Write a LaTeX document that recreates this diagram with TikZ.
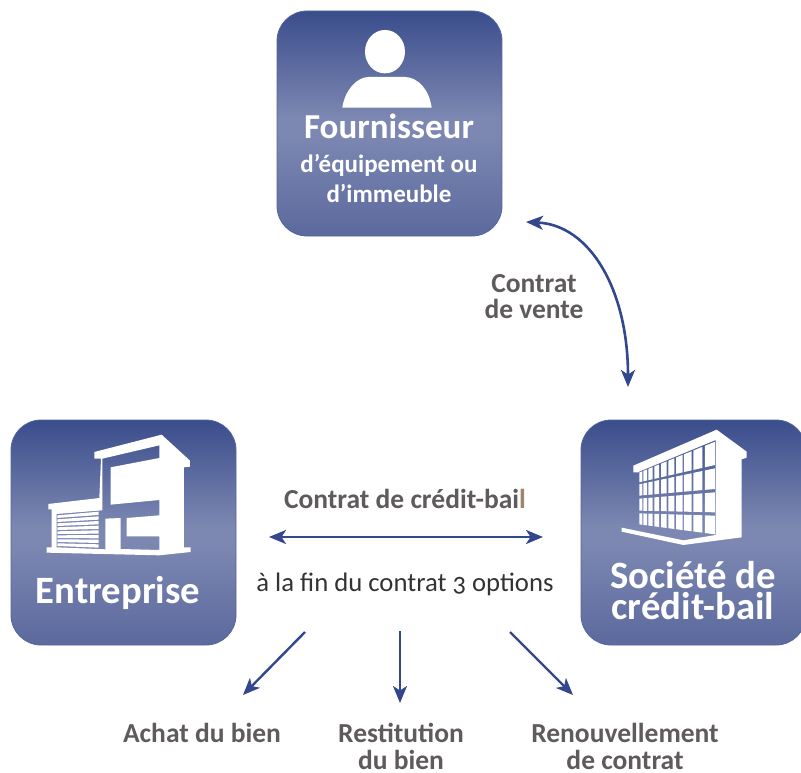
\documentclass[tikz,border=0pt]{standalone}
\usepackage{fontspec}
\setmainfont[Numbers=OldStyle]{Carlito}
\usetikzlibrary{arrows.meta}
\definecolor{gtop}{HTML}{3A4D8C}
\definecolor{gmid}{HTML}{7D88B2}
\definecolor{gbot}{HTML}{5B699D}
\definecolor{edgeblue}{HTML}{55659C}
\definecolor{arrowblue}{HTML}{32478C}
\definecolor{labelgray}{HTML}{5F5A5B}
\definecolor{brownl}{HTML}{A2846E}
\pgfdeclareverticalshading{boxgrad}{100bp}{color(0bp)=(gbot); color(25bp)=(gbot); color(48bp)=(gmid); color(51bp)=(gmid); color(75bp)=(gtop); color(100bp)=(gtop)}
\tikzset{
  card/.style={shading=boxgrad, draw=edgeblue, line width=0.8pt, rounded corners=30pt, minimum width=225pt, minimum height=225pt, inner sep=0pt},
  whitetext/.style={text=white, anchor=base, inner sep=0pt, font=\bfseries},
  graytext/.style={text=labelgray, anchor=base, inner sep=0pt, font=\fontsize{27.5}{27.5}\selectfont\bfseries},
  flow/.style={draw=arrowblue, line width=2.6pt, {Stealth[length=17pt,width=14pt,inset=4.5pt]}-{Stealth[length=17pt,width=14pt,inset=4.5pt]}},
  oneway/.style={draw=arrowblue, line width=2.4pt, -{Stealth[length=17pt,width=14pt,inset=4.5pt]}},
  glyph/.style={fill=white}
}
\begin{document}
\begin{tikzpicture}[x=1pt,y=-1pt]
\useasboundingbox (0,0) rectangle (801,773);
\clip (0,0) rectangle (801,773);
% cards
\node[card] (four) at (389.5,123.5) {};
\node[card] (entr) at (123.5,532.5) {};
\node[card] (socb) at (693.5,532.5) {};
% person
\begin{scope}[shift={(270,0)},x=0.3333pt,y=-0.3333pt]
\fill[glyph] (345,155) ellipse [x radius=20pt, y radius=21.7pt];
\fill[glyph] (217,323) .. controls (225,270) and (260,232) .. (295,231) -- (405,231) .. controls (445,232) and (478,270) .. (485,323) -- cycle;
\end{scope}
% house
\begin{scope}[shift={(40,428)},x=0.3333pt,y=-0.3333pt]
\fill[glyph,even odd rule]
 (163,72)--(365,20)--(450,98)--(450,116)--(432,118)--(432,358)--(452,358)--(452,372)--(358,382)--(20,374)--(20,358)--(35,358)--(35,244)--(25,244)--(25,228)--(178,210)--(183,92)--(163,92)--cycle
 (187,92)--(358,52)--(358,90)--(212,118)--(212,230)--(358,216)--(358,262)--(260,270)--(260,325)--(358,325)--(358,366)--(242,363)--(242,270)--(196,272)--(196,364)--(50,358)--(50,258)--(187,247)--cycle;
\foreach \i in {0,...,7}{
  \fill[glyph] (52,{262+12*\i}) -- (176,{251+14*\i}) -- (176,{261+14*\i}) -- (52,{270+12*\i}) -- cycle;
}
\end{scope}
% office block
\begin{scope}[shift={(615,425)},x=0.3333pt,y=-0.3333pt]
\fill[glyph] (55,122)--(305,14)--(395,80)--(395,98)--(380,103)--(380,337)--(205,360)--(20,320)--(20,308)--(205,346)--(302,330)--(302,45)--(72,140)--(72,142)--(55,142)--cycle;
\foreach \xa/\xb in {73/82,85/96,100/113,118/132,138/155,160/178,183/203,207/230,235/262,270/300}{
  \foreach \la/\ra/\lb/\rb in {143/50/172/120,178/130/212/192,221/202/257/262,265/272/298/328}{
    \fill[glyph]
      (\xa,{\la+(\ra-\la)*((\xa-72)/228)}) -- (\xb,{\la+(\ra-\la)*((\xb-72)/228)}) --
      (\xb,{\lb+(\rb-\lb)*((\xb-72)/228)}) -- (\xa,{\lb+(\rb-\lb)*((\xa-72)/228)}) -- cycle;
  }
}
\end{scope}
% card texts
\node[whitetext,font=\fontsize{35}{35}\selectfont\bfseries] (t1) at (389,139) {Fournisseur};
\node[whitetext,font=\fontsize{25}{25}\selectfont\bfseries] (t2) at (389,172) {d’équipement ou};
\node[whitetext,font=\fontsize{25}{25}\selectfont\bfseries] (t3) at (389,203) {d’immeuble};
\node[whitetext,font=\fontsize{38.7}{38.7}\selectfont\bfseries] (t4) at (118,603) {Entreprise};
\node[whitetext,font=\fontsize{38.7}{38.7}\selectfont\bfseries] (t5) at (693,588) {Société de};
\node[whitetext,font=\fontsize{38.7}{38.7}\selectfont\bfseries] (t6) at (693,619) {crédit-bail};
% labels
\node[graytext] (l1) at (534,292) {Contrat};
\node[graytext] (l2) at (534,318) {de vente};
\node[graytext] (l3) at (405,508) {Contrat de crédit-bai\textcolor{brownl}{l}};
\node[anchor=base,inner sep=0pt,text=black!80,font=\fontsize{26.7}{26.7}\selectfont] (l4) at (405,591) {à la fin du contrat 3 options};
\node[graytext] (o1) at (202,742) {Achat du bien};
\node[graytext] (o2) at (401,742) {Restitution};
\node[graytext] (o3) at (401,769.5) {du bien};
\node[graytext] (o4) at (625,742) {Renouvellement};
\node[graytext] (o5) at (625,769.5) {de contrat};
% connector ends
\coordinate (va) at (526,222);
\coordinate (vb) at (628,387);
\coordinate (ha) at (269,537);
\coordinate (hb) at (543,537);
\coordinate (s1) at (305,632);
\coordinate (e1) at (243,695);
\coordinate (s2) at (400,631);
\coordinate (e2) at (400,703);
\coordinate (s3) at (510,632);
\coordinate (e3) at (573,695);
\draw[flow] (va) .. controls (590,225) and (628,290) .. (vb);
\draw[flow] (ha) -- (hb);
\draw[oneway] (s1) -- (e1);
\draw[oneway] (s2) -- (e2);
\draw[oneway] (s3) -- (e3);
\end{tikzpicture}
\end{document}
